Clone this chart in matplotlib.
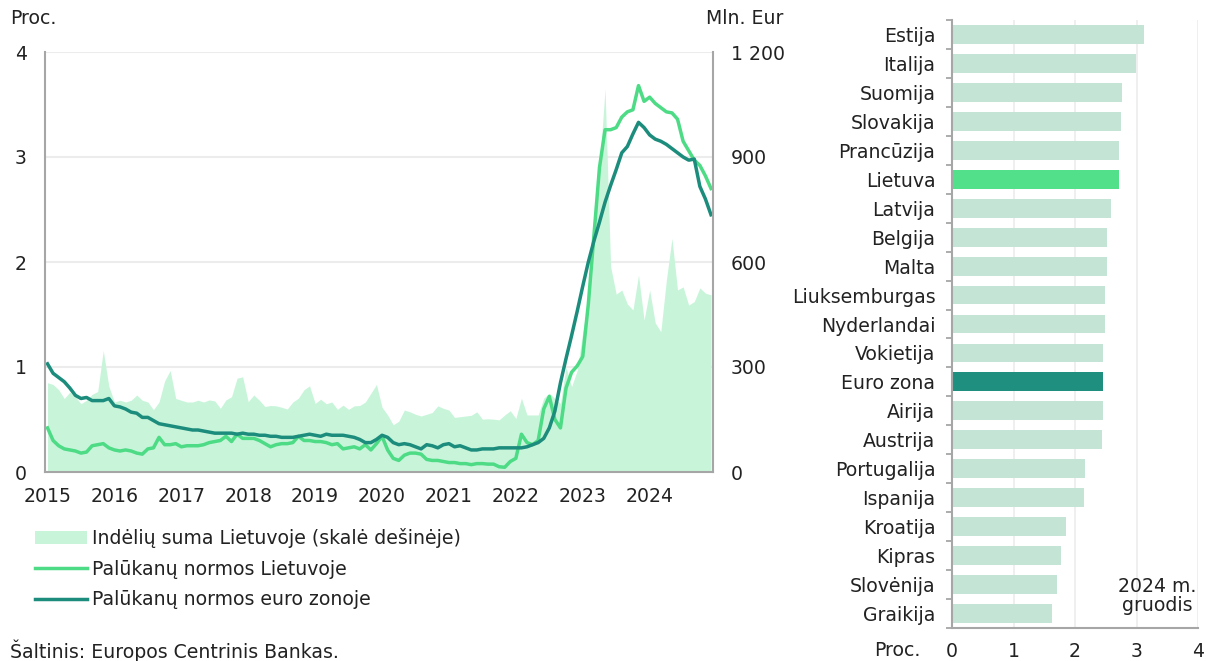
import matplotlib
matplotlib.use('Agg')
import matplotlib.pyplot as plt
import numpy as np
from matplotlib.patches import Patch
from matplotlib.lines import Line2D
from matplotlib.ticker import FuncFormatter

plt.rcParams['font.family'] = ['DejaVu Sans']

# ---------------- data ----------------
years = ['2015', '2016', '2017', '2018', '2019', '2020', '2021', '2022', '2023', '2024']

rate_lt = [0.42, 0.30, 0.25, 0.22, 0.21, 0.20, 0.18, 0.19, 0.25, 0.26, 0.27, 0.23,
           0.21, 0.20, 0.21, 0.20, 0.18, 0.17, 0.22, 0.23, 0.33, 0.26, 0.26, 0.27,
           0.24, 0.25, 0.25, 0.25, 0.26, 0.28, 0.29, 0.30, 0.34, 0.29, 0.36, 0.32,
           0.32, 0.32, 0.30, 0.27, 0.24, 0.26, 0.27, 0.27, 0.28, 0.34, 0.30, 0.30,
           0.29, 0.29, 0.28, 0.26, 0.27, 0.22, 0.23, 0.24, 0.22, 0.26, 0.21, 0.27,
           0.34, 0.21, 0.13, 0.11, 0.16, 0.18, 0.18, 0.17, 0.12, 0.11, 0.11, 0.10,
           0.09, 0.09, 0.08, 0.08, 0.07, 0.08, 0.08, 0.075, 0.075, 0.05, 0.045, 0.10,
           0.13, 0.36, 0.28, 0.26, 0.30, 0.60, 0.72, 0.50, 0.42, 0.80, 0.95, 1.01,
           1.10, 1.60, 2.25, 2.90, 3.26, 3.26, 3.28, 3.38, 3.43, 3.45, 3.68, 3.53,
           3.57, 3.51, 3.47, 3.43, 3.42, 3.36, 3.15, 3.06, 2.97, 2.92, 2.82, 2.70]

rate_ez = [1.03, 0.94, 0.90, 0.86, 0.80, 0.73, 0.70, 0.71, 0.68, 0.68, 0.68, 0.70,
           0.63, 0.62, 0.60, 0.57, 0.56, 0.52, 0.52, 0.49, 0.46, 0.45, 0.44, 0.43,
           0.42, 0.41, 0.40, 0.40, 0.39, 0.38, 0.37, 0.37, 0.37, 0.37, 0.36, 0.37,
           0.36, 0.36, 0.35, 0.35, 0.34, 0.34, 0.33, 0.33, 0.33, 0.34, 0.35, 0.36,
           0.35, 0.34, 0.36, 0.35, 0.35, 0.35, 0.34, 0.33, 0.31, 0.28, 0.28, 0.31,
           0.35, 0.33, 0.28, 0.26, 0.27, 0.26, 0.24, 0.22, 0.26, 0.25, 0.23, 0.26,
           0.27, 0.24, 0.25, 0.23, 0.21, 0.21, 0.22, 0.22, 0.22, 0.23, 0.23, 0.23,
           0.23, 0.23, 0.24, 0.26, 0.28, 0.32, 0.42, 0.58, 0.85, 1.08, 1.30, 1.53,
           1.77, 2.00, 2.20, 2.38, 2.57, 2.73, 2.88, 3.04, 3.10, 3.22, 3.33, 3.28,
           3.21, 3.17, 3.15, 3.12, 3.08, 3.04, 3.00, 2.97, 2.98, 2.72, 2.60, 2.45]

deposits_lt = [255, 250, 235, 210, 228, 215, 195, 205, 222, 230, 347, 245,
               200, 205, 200, 205, 220, 205, 200, 178, 200, 260, 290, 210,
               205, 200, 200, 205, 200, 206, 203, 182, 206, 215, 268, 272,
               201, 220, 205, 187, 190, 189, 185, 180, 200, 211, 235, 246,
               196, 208, 195, 200, 179, 191, 179, 189, 190, 200, 225, 250,
               185, 163, 135, 145, 177, 172, 165, 160, 165, 170, 189, 182,
               177, 156, 158, 160, 162, 172, 151, 152, 151, 149, 163, 175,
               153, 211, 163, 163, 163, 211, 225, 210, 196, 300, 244, 290,
               400, 490, 680, 870, 1095, 587, 508, 520, 480, 463, 563, 434,
               520, 426, 401, 549, 668, 520, 529, 477, 487, 526, 511, 506]

countries = ['Estija', 'Italija', 'Suomija', 'Slovakija', 'Prancūzija', 'Lietuva',
             'Latvija', 'Belgija', 'Malta', 'Liuksemburgas', 'Nyderlandai', 'Vokietija',
             'Euro zona', 'Airija', 'Austrija', 'Portugalija', 'Ispanija', 'Kroatija',
             'Kipras', 'Slovėnija', 'Graikija']
country_rates = [3.13, 2.99, 2.77, 2.75, 2.71, 2.71, 2.59, 2.52, 2.52, 2.48, 2.48, 2.46,
                 2.46, 2.46, 2.44, 2.17, 2.15, 1.85, 1.77, 1.71, 1.63]

legend_labels = ['Indėlių suma Lietuvoje (skalė dešinėje)',
                 'Palūkanų normos Lietuvoje',
                 'Palūkanų normos euro zonoje']

# ---------------- style ----------------
C_AREA = '#c8f5da'
C_LT = '#4ddb86'
C_EZ = '#1c8c7c'
C_BAR = '#c4e4d6'
C_SPINE = '#a6a6a6'
C_GRID = '#ececec'
C_TEXT = '#222222'
FS = 13.6

W, H = 1208, 661
fig = plt.figure(figsize=(W / 100, H / 100), dpi=100)


def fx(px):
    return px / W


def fy(py):
    return 1 - py / H


# ---------------- left chart ----------------
ax = fig.add_axes([fx(45), fy(472), (713 - 45) / W, (472 - 52) / H])
ax2 = ax.twinx()
ax.set_zorder(2)
ax2.set_zorder(1)
ax.patch.set_visible(False)

idx = np.arange(len(rate_lt))
ax2.fill_between(idx, 0, deposits_lt, color=C_AREA, lw=0)
ax.plot(idx, rate_lt, color=C_LT, lw=2.5, solid_joinstyle='round')
ax.plot(idx, rate_ez, color=C_EZ, lw=2.5, solid_joinstyle='round')

ax.set_xlim(-0.45, len(idx) - 1 + 0.36)
ax.set_ylim(0, 4)
ax2.set_ylim(0, 1200)
ax.set_yticks([0, 1, 2, 3, 4])
ax2.set_yticks([0, 300, 600, 900, 1200])
ax2.yaxis.set_major_formatter(FuncFormatter(lambda v, p: f'{int(v):,}'.replace(',', ' ')))
ax.set_xticks(np.arange(len(years)) * 12)
ax.set_xticklabels(years)

ax2.yaxis.grid(True, color=C_GRID, lw=1.5)
ax2.set_axisbelow(True)
for s in ax2.spines.values():
    s.set_visible(False)
ax.spines['top'].set_visible(False)
for k in ['left', 'right', 'bottom']:
    ax.spines[k].set_color(C_SPINE)
    ax.spines[k].set_linewidth(1.5)

ax.tick_params(axis='y', length=0, pad=13, labelsize=FS, labelcolor=C_TEXT)
ax2.tick_params(axis='y', length=0, pad=13, labelsize=FS, labelcolor=C_TEXT)
ax.tick_params(axis='x', length=0, pad=11, labelsize=FS, labelcolor=C_TEXT)

fig.text(fx(10), fy(18), 'Proc.', ha='left', va='center', fontsize=FS, color=C_TEXT)
fig.text(fx(783), fy(18), 'Mln. Eur', ha='right', va='center', fontsize=FS, color=C_TEXT)

handles = [Patch(facecolor=C_AREA, edgecolor='none'),
           Line2D([0], [0], color=C_LT, lw=2.5),
           Line2D([0], [0], color=C_EZ, lw=2.5)]
fig.legend(handles, legend_labels, loc='upper left', bbox_to_anchor=(fx(35), fy(528)),
           frameon=False, fontsize=FS, handlelength=2.75, handletextpad=0.25,
           labelspacing=0.62, borderpad=0, borderaxespad=0, labelcolor=C_TEXT)

fig.text(fx(10), fy(640), 'Šaltinis: Europos Centrinis Bankas.', ha='left', va='top',
         fontsize=FS, color=C_TEXT)

# ---------------- right chart ----------------
axb = fig.add_axes([fx(952), fy(628), (1198 - 952) / W, (628 - 20) / H])
ypos = np.arange(len(countries))
bar_colors = [C_BAR] * len(countries)
bar_colors[countries.index('Lietuva')] = '#52e08a'
bar_colors[countries.index('Euro zona')] = '#1f9080'
axb.barh(ypos, country_rates, height=0.65, color=bar_colors, zorder=2)
axb.set_ylim(len(countries) - 0.5, -0.5)
axb.set_xlim(0, 4)
axb.set_yticks(ypos)
axb.set_yticklabels(countries)
axb.set_yticks(np.arange(len(countries) + 1) - 0.5, minor=True)
axb.set_xticks([0, 1, 2, 3, 4])
axb.tick_params(axis='y', which='major', length=0, pad=12, labelsize=FS, labelcolor=C_TEXT)
axb.tick_params(axis='y', which='minor', length=4.5, width=1.3, color=C_SPINE)
axb.tick_params(axis='x', length=0, pad=10, labelsize=FS, labelcolor=C_TEXT)
axb.xaxis.grid(True, color=C_GRID, lw=1.2, zorder=0)
axb.set_axisbelow(True)
axb.spines['top'].set_visible(False)
axb.spines['right'].set_visible(False)
for k in ['left', 'bottom']:
    axb.spines[k].set_color(C_SPINE)
    axb.spines[k].set_linewidth(1.5)

fig.text(fx(920), fy(651), 'Proc.', ha='right', va='center', fontsize=FS, color=C_TEXT)
fig.text(fx(1157), fy(596), '2024 m.\ngruodis', ha='center', va='center', fontsize=FS,
         color=C_TEXT, linespacing=1.0)

fig.savefig('out.png', dpi=100)
